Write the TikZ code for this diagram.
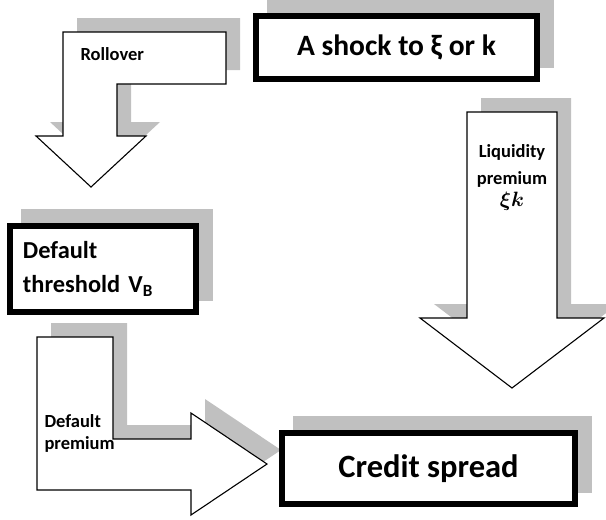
\documentclass[tikz,border=0pt]{standalone}
\usepackage{fontspec}
\setmainfont{Carlito}
\usepackage{tikz}
\usetikzlibrary{backgrounds}
\definecolor{shadowgray}{HTML}{C0C0C0}

% block arrow outlines (pixel grid, y downwards)
\newcommand{\rolloverpath}{(63,32) -- (226,32) -- (226,84) -- (117,84) -- (117,136) -- (146,136) -- (91,187) -- (36,136) -- (63,136) -- cycle}
\newcommand{\liquiditypath}{(467,112) -- (557,112) -- (557,318) -- (604,318) -- (512,388) -- (420,318) -- (467,318) -- cycle}
\newcommand{\defaultpath}{(37,337) -- (113,337) -- (113,439) -- (191,439) -- (191,413) -- (267,464) -- (191,515) -- (191,490) -- (37,490) -- cycle}

\begin{document}
\begin{tikzpicture}[x=1pt, y=-1pt,
    every node/.style={font=\bfseries},
    shade box/.style={fill=shadowgray, draw=none},
    blockarrow/.style={fill=white, draw=black, line width=1.1pt, line join=miter},
    bigbox/.style={draw=black, fill=white, line width=6pt, inner sep=0pt},
    small label/.style={font=\bfseries\fontsize{18.5}{22}\selectfont}]
    \useasboundingbox (0,0) rectangle (606,520);

    % Arrow shadows
    \begin{scope}[shift={(14,-14)}]
        \fill[shade box] \rolloverpath;
        \fill[shade box] \liquiditypath;
        \fill[shade box] \defaultpath;
    \end{scope}

    % Arrows
    \draw[blockarrow] \rolloverpath;
    \draw[blockarrow] \liquiditypath;
    \draw[blockarrow] \defaultpath;

    \node[small label, anchor=west] (rollover) at (77,54) {Rollover};
    \node[small label, align=center, font=\bfseries\fontsize{18.5}{27}\selectfont] (liquidity) at (512,178)
        {Liquidity\\premium\\[-5pt]{\fontsize{20}{20}\selectfont\boldmath$\xi k$}};
    \node[small label, align=left, anchor=west] (defprem) at (41,433) {Default\\premium};

    % Boxes
    \node[bigbox, minimum width=281, minimum height=63, font=\bfseries\fontsize{29.5}{36}\selectfont]
        (shock) at (396.5,47.5) {A shock to ξ or k};
    \node[bigbox, minimum width=186, minimum height=86, align=left, text width=160,
        font=\bfseries\fontsize{24.4}{34}\selectfont]
        (threshold) at (103,269) {Default\\threshold V\textsubscript{B}};
    \node[bigbox, minimum width=293, minimum height=71, font=\bfseries\fontsize{32.5}{36}\selectfont]
        (spread) at (428.5,468.5) {Credit spread};

    % Box shadows
    \begin{scope}[on background layer]
        \foreach \b in {shock,threshold,spread}
        {
            \fill[shade box] ([shift={(14,-14)}]\b.south west) rectangle ([shift={(14,-14)}]\b.north east);
        }
    \end{scope}
\end{tikzpicture}
\end{document}
